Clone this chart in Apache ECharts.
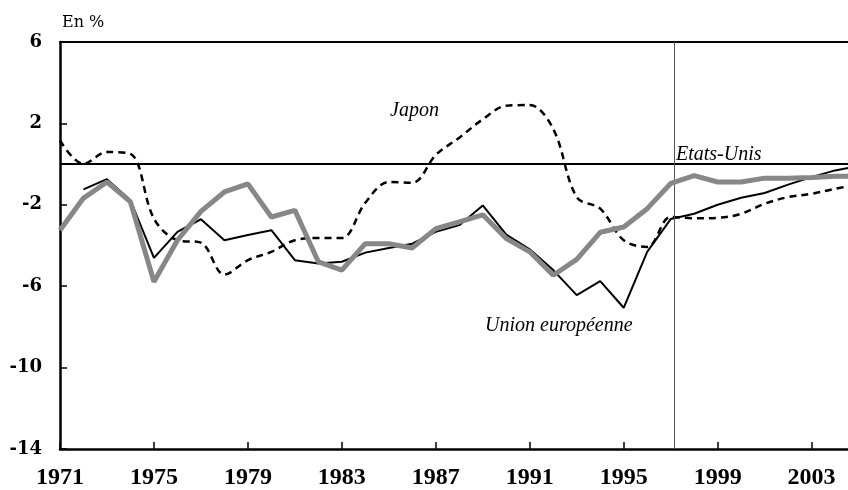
<!DOCTYPE html>
<html>
<head>
<meta charset="utf-8">
<script src="https://cdn.jsdelivr.net/npm/echarts@6/dist/echarts.min.js"></script>
<style>
html,body{margin:0;padding:0;background:#fff;}
#chart{width:848px;height:490px;}
</style>
</head>
<body>
<div id="chart"></div>
<script>
const years = [1971,1972,1973,1974,1975,1976,1977,1978,1979,1980,1981,1982,1983,1984,1985,1986,1987,1988,1989,1990,1991,1992,1993,1994,1995,1996,1997,1998,1999,2000,2001,2002,2003,2004,2005];
const etatsUnis = [-3.25,-1.67,-0.88,-1.86,-5.78,-3.74,-2.32,-1.37,-0.97,-2.6,-2.27,-4.8,-5.21,-3.91,-3.91,-4.12,-3.17,-2.84,-2.49,-3.66,-4.31,-5.46,-4.68,-3.35,-3.09,-2.19,-0.95,-0.57,-0.88,-0.88,-0.69,-0.69,-0.66,-0.6,-0.6];
const unionEuropeenne = [null,-1.24,-0.74,-1.78,-4.61,-3.33,-2.71,-3.74,-3.48,-3.25,-4.72,-4.89,-4.8,-4.35,-4.12,-3.91,-3.33,-3.0,-2.03,-3.47,-4.19,-5.21,-6.44,-5.75,-7.06,-4.31,-2.7,-2.44,-2.0,-1.65,-1.42,-1.01,-0.64,-0.31,-0.1];
const japon = [1.16,0.01,0.59,0.5,-2.68,-3.74,-3.86,-5.43,-4.72,-4.31,-3.74,-3.63,-3.63,-1.9,-0.88,-0.92,0.45,1.3,2.2,2.87,2.9,1.73,-1.62,-2.19,-3.74,-4.07,-2.6,-2.66,-2.64,-2.44,-1.95,-1.62,-1.46,-1.21,-1.0];
const xTickLabels = [1971,1975,1979,1983,1987,1991,1995,1999,2003];
const yTickLabels = [-14,-10,-6,-2,2,6];
const xMin = 1971, xMax = 2004.55;
const yMin = -14, yMax = 6;
const markYear = 1997.15;

const pair = arr => years.map((y, i) => [y, arr[i]]);

const chart = echarts.init(document.getElementById('chart'), null, {renderer: 'canvas'});
chart.setOption({
  animation: false,
  backgroundColor: '#fff',
  grid: {left: 60, right: 0, top: 42, bottom: 39, containLabel: false},
  title: {
    text: 'En %', left: 57, top: 10,
    textStyle: {fontFamily: 'DejaVu Serif', fontWeight: 'normal', fontSize: 16, color: '#000'}
  },
  xAxis: [{
    type: 'value', min: xMin, max: xMax, position: 'bottom',
    axisLine: {show: true, onZero: false, lineStyle: {color: '#000', width: 2.5}},
    axisTick: {show: true, inside: true, length: 7, customValues: xTickLabels, lineStyle: {color: '#000', width: 1.5}},
    axisLabel: {show: true, customValues: xTickLabels, margin: 17, color: '#000',
      fontFamily: 'Liberation Serif', fontWeight: 'bold', fontSize: 24,
      formatter: v => String(v)},
    splitLine: {show: false}
  }, {
    type: 'value', min: xMin, max: xMax, position: 'top',
    axisLine: {show: true, onZero: false, lineStyle: {color: '#000', width: 2}},
    axisTick: {show: false}, axisLabel: {show: false}, splitLine: {show: false}
  }],
  yAxis: {
    type: 'value', min: yMin, max: yMax,
    axisLine: {show: true, onZero: false, lineStyle: {color: '#000', width: 2.5}},
    axisTick: {show: true, inside: true, length: 7, customValues: yTickLabels, lineStyle: {color: '#000', width: 1.5}},
    axisLabel: {show: true, customValues: yTickLabels, margin: 18, color: '#000',
      fontFamily: 'DejaVu Serif', fontWeight: 'bold', fontSize: 18,
      formatter: v => String(v)},
    splitLine: {show: false}
  },
  series: [{
    name: 'Japon', type: 'line', data: pair(japon), smooth: 0.35,
    showSymbol: false, symbol: 'none', clip: true,
    lineStyle: {color: '#000', width: 2.5, type: [7, 5]},
    z: 3
  }, {
    name: 'Union européenne', type: 'line', data: pair(unionEuropeenne),
    showSymbol: false, symbol: 'none', clip: true, connectNulls: false,
    lineStyle: {color: '#000', width: 2},
    z: 4
  }, {
    name: 'Etats-Unis', type: 'line', data: pair(etatsUnis),
    showSymbol: false, symbol: 'none', clip: true,
    lineStyle: {color: '#878787', width: 5},
    z: 5,
    markLine: {
      silent: true, symbol: 'none', label: {show: false},
      data: [
        {yAxis: 0, lineStyle: {color: '#000', width: 2, type: 'solid'}},
        {xAxis: markYear, lineStyle: {color: '#555', width: 1, type: 'solid'}}
      ]
    }
  }],
  graphic: [
    {type: 'text', left: 390, top: 101, z: 100, style: {text: 'Japon', font: 'italic 20px "Liberation Serif"', fill: '#000'}},
    {type: 'text', left: 676, top: 145, z: 100, style: {text: 'Etats-Unis', font: 'italic 20px "Liberation Serif"', fill: '#000'}},
    {type: 'text', left: 485, top: 316, z: 100, style: {text: 'Union européenne', font: 'italic 20px "Liberation Serif"', fill: '#000'}}
  ]
});
</script>
</body>
</html>
